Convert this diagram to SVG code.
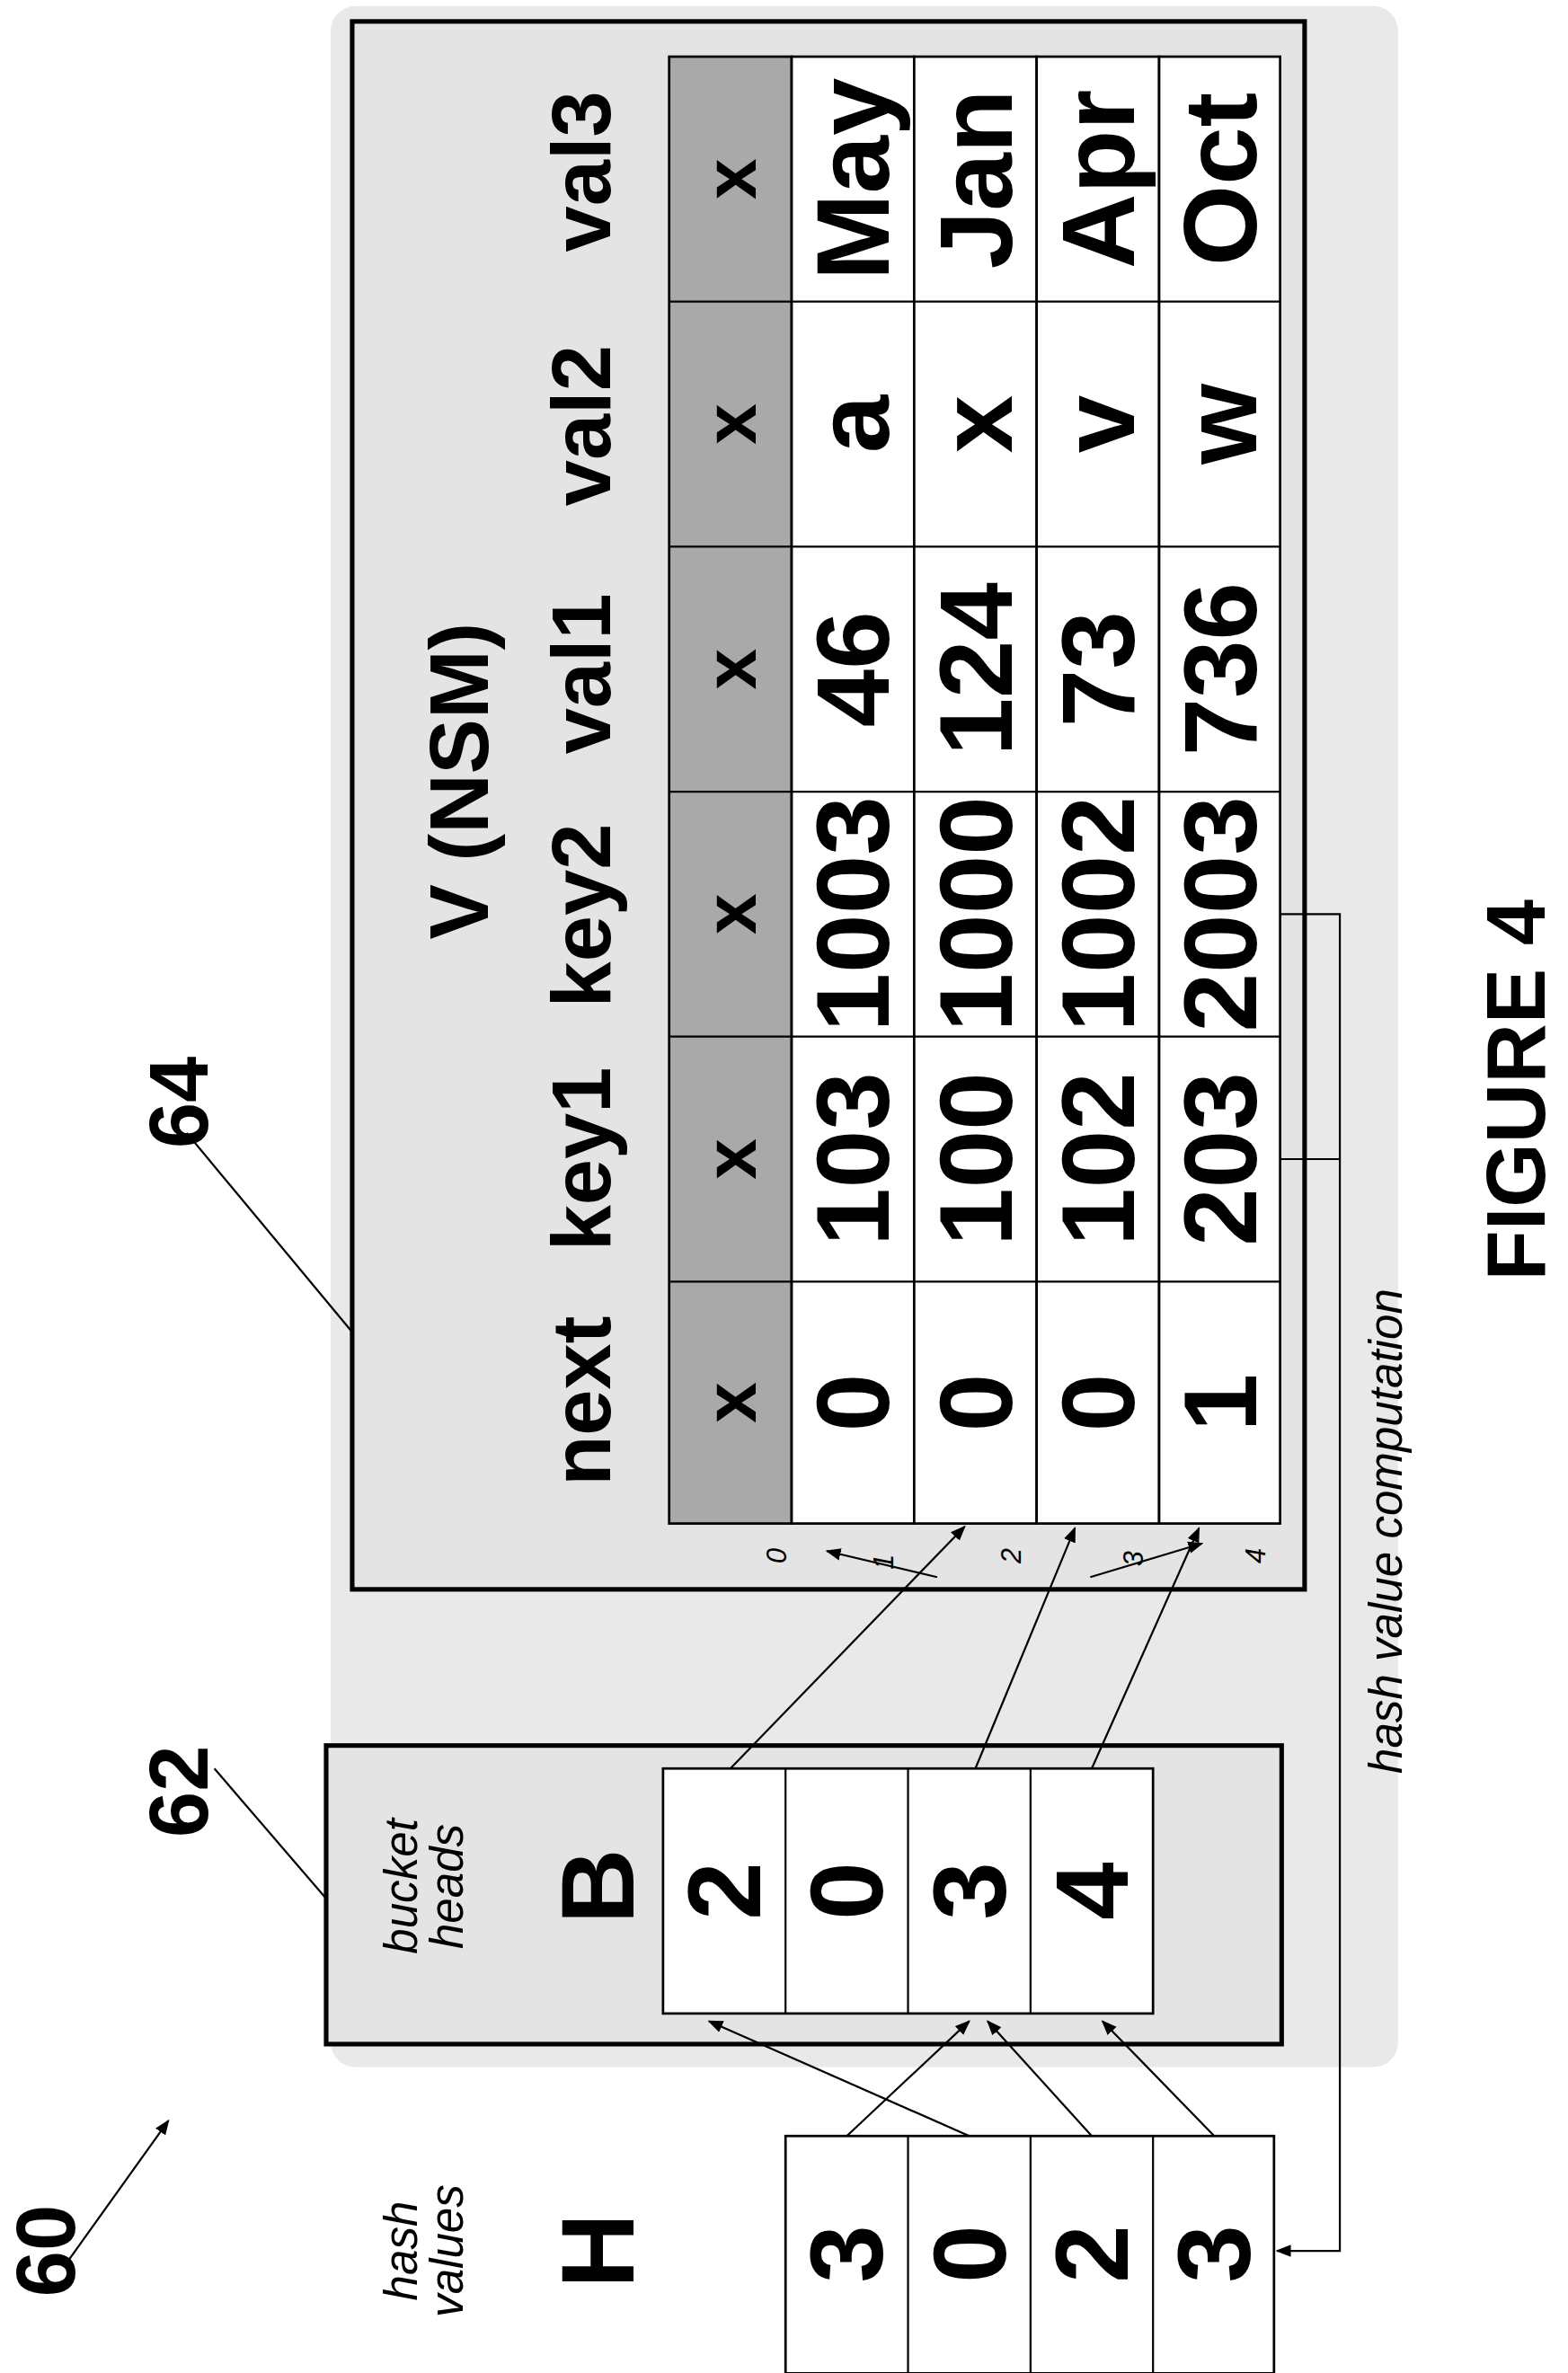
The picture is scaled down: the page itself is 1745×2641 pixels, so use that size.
<svg xmlns="http://www.w3.org/2000/svg" width="1745" height="2641" viewBox="0 0 1745 2641">
<style>
text{font-family:"Liberation Sans",Arial,sans-serif;text-anchor:middle;dominant-baseline:central}
.c{font-size:68px;font-weight:bold}
.h{font-size:54px;font-weight:bold}
.i{font-size:30px;font-style:italic;font-weight:normal}
.s{font-size:18px;font-style:italic}
.cell{fill:#fff;stroke:#000;stroke-width:1.6}
.hd{fill:#a9a9a9;stroke:#000;stroke-width:1.6}
.box{fill:#e4e4e4;stroke:#000;stroke-width:3}
.ln{stroke:#000;stroke-width:1.3;fill:none}
</style>
<defs>
<marker id="a" viewBox="0 0 10 10" refX="9" refY="5" markerWidth="10" markerHeight="10" markerUnits="userSpaceOnUse" orient="auto"><path d="M0,1 L10,5 L0,9 z" fill="#000"/></marker>
</defs>
<rect width="1745" height="2641" fill="#fff"/>
<g transform="scale(1.7041)">
<rect x="216" y="4" width="697" height="1346" rx="16" fill="#e9e9e9"/>
<g id="V">
<rect class="box" x="230" y="14" width="622" height="1024"/>
<text class="h" transform="translate(300,510) rotate(-90)">V (NSM)</text>
<text class="h" transform="translate(380,915) rotate(-90)">next</text>
<text class="h" transform="translate(380,757) rotate(-90)">key1</text>
<text class="h" transform="translate(380,598) rotate(-90)">key2</text>
<text class="h" transform="translate(380,440) rotate(-90)">val1</text>
<text class="h" transform="translate(380,278) rotate(-90)">val2</text>
<text class="h" transform="translate(380,112) rotate(-90)">val3</text>
<rect class="hd" x="437" y="37" width="80" height="958"/>
<rect class="cell" x="517" y="37" width="80" height="958"/>
<rect class="cell" x="597" y="37" width="80" height="958"/>
<rect class="cell" x="677" y="37" width="80" height="958"/>
<rect class="cell" x="757" y="37" width="79" height="958"/>
<path class="ln" stroke-width="1.6" d="M437,197H836M437,357H836M437,517H836M437,677H836M437,837H836"/>
<g class="c">
<text transform="translate(477,916) rotate(-90)" font-size="48">x</text>
<text transform="translate(477,757) rotate(-90)" font-size="48">x</text>
<text transform="translate(477,597) rotate(-90)" font-size="48">x</text>
<text transform="translate(477,437) rotate(-90)" font-size="48">x</text>
<text transform="translate(477,277) rotate(-90)" font-size="48">x</text>
<text transform="translate(477,117) rotate(-90)" font-size="48">x</text>
<text transform="translate(557,916) rotate(-90)">0</text>
<text transform="translate(557,757) rotate(-90)">103</text>
<text transform="translate(557,597) rotate(-90)" textLength="154" lengthAdjust="spacingAndGlyphs">1003</text>
<text transform="translate(557,437) rotate(-90)">46</text>
<text transform="translate(557,277) rotate(-90)">a</text>
<text transform="translate(557,117) rotate(-90)">May</text>
<text transform="translate(637,916) rotate(-90)">0</text>
<text transform="translate(637,757) rotate(-90)">100</text>
<text transform="translate(637,597) rotate(-90)" textLength="154" lengthAdjust="spacingAndGlyphs">1000</text>
<text transform="translate(637,437) rotate(-90)">124</text>
<text transform="translate(637,277) rotate(-90)">x</text>
<text transform="translate(637,117) rotate(-90)">Jan</text>
<text transform="translate(717,916) rotate(-90)">0</text>
<text transform="translate(717,757) rotate(-90)">102</text>
<text transform="translate(717,597) rotate(-90)" textLength="154" lengthAdjust="spacingAndGlyphs">1002</text>
<text transform="translate(717,437) rotate(-90)">73</text>
<text transform="translate(717,277) rotate(-90)">v</text>
<text transform="translate(717,117) rotate(-90)">Apr</text>
<text transform="translate(797,916) rotate(-90)">1</text>
<text transform="translate(797,757) rotate(-90)">203</text>
<text transform="translate(797,597) rotate(-90)" textLength="154" lengthAdjust="spacingAndGlyphs">2003</text>
<text transform="translate(797,437) rotate(-90)">736</text>
<text transform="translate(797,277) rotate(-90)">w</text>
<text transform="translate(797,117) rotate(-90)">Oct</text>
</g>
<g class="s">
<text transform="translate(507,1016) rotate(-90)">0</text>
<text transform="translate(577,1020) rotate(-90)">1</text>
<text transform="translate(660,1016) rotate(-90)">2</text>
<text transform="translate(740,1018) rotate(-90)">3</text>
<text transform="translate(820,1016) rotate(-90)">4</text>
</g>
</g>
<g id="B">
<rect class="box" x="213" y="1140" width="624" height="195"/>
<text class="i" transform="translate(262,1232) rotate(-90)">bucket</text>
<text class="i" transform="translate(292,1232) rotate(-90)">heads</text>
<text class="c" transform="translate(390,1232) rotate(-90)">B</text>
<rect class="cell" x="433" y="1155" width="320" height="160"/>
<path class="ln" stroke-width="1.6" d="M513,1155V1315M593,1155V1315M673,1155V1315"/>
<text class="c" transform="translate(473,1235) rotate(-90)">2</text>
<text class="c" transform="translate(553,1235) rotate(-90)">0</text>
<text class="c" transform="translate(633,1235) rotate(-90)">3</text>
<text class="c" transform="translate(713,1235) rotate(-90)">4</text>
</g>
<g id="H">
<text class="i" transform="translate(262,1470) rotate(-90)">hash</text>
<text class="i" transform="translate(292,1470) rotate(-90)">values</text>
<text class="c" transform="translate(390,1470) rotate(-90)">H</text>
<rect class="cell" x="513" y="1395" width="319" height="155"/>
<path class="ln" stroke-width="1.6" d="M593,1395V1550M673,1395V1550M753,1395V1550"/>
<text class="c" transform="translate(553,1472) rotate(-90)">3</text>
<text class="c" transform="translate(633,1472) rotate(-90)">0</text>
<text class="c" transform="translate(713,1472) rotate(-90)">2</text>
<text class="c" transform="translate(793,1472) rotate(-90)">3</text>
</g>
<g id="labels">
<text class="h" font-size="34" transform="translate(117,720) rotate(-90)">64</text>
<text class="h" font-size="34" transform="translate(117,1170) rotate(-90)">62</text>
<text class="h" font-size="34" transform="translate(30,1470) rotate(-90)">60</text>
<text class="h" font-size="32" transform="translate(990,712) rotate(-90)">FIGURE 4</text>
<text class="i" font-size="28" transform="translate(905,1000) rotate(-90)">hash value computation</text>
</g>
<g id="connectors" class="ln">
<path d="M122,740L230,870"/>
<path d="M140,1155L213,1240"/>
<path d="M42,1480L110,1385" marker-end="url(#a)"/>
<path d="M477,1155L630,997" marker-end="url(#a)"/>
<path d="M612,1030L540,1013" marker-end="url(#a)"/>
<path d="M637,1155L702,998" marker-end="url(#a)"/>
<path d="M712,1030L785,1008" marker-end="url(#a)"/>
<path d="M713,1155L783,998" marker-end="url(#a)"/>
<path d="M553,1395L633,1320" marker-end="url(#a)"/>
<path d="M633,1395L463,1320" marker-end="url(#a)"/>
<path d="M713,1395L645,1320" marker-end="url(#a)"/>
<path d="M793,1395L720,1320" marker-end="url(#a)"/>
<path d="M836,757H875M836,597H875V1470H834" marker-end="url(#a)"/>
</g>
</g>
</svg>
